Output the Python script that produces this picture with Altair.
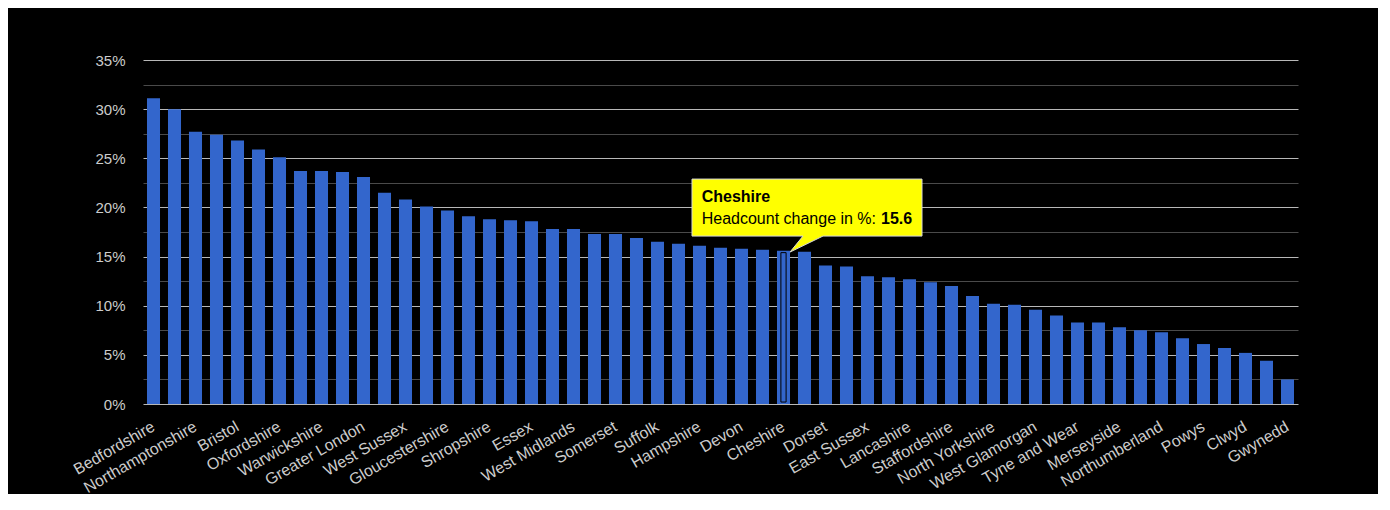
import altair as alt
import pandas as pd

# ---- data ----
names = [
    "Bedfordshire", "Buckinghamshire", "Northamptonshire", "Cambridgeshire",
    "Bristol", "Berkshire", "Oxfordshire", "Hertfordshire",
    "Warwickshire", "Leicestershire", "Greater London", "Wiltshire",
    "West Sussex", "Surrey", "Gloucestershire", "Kent",
    "Shropshire", "Nottinghamshire", "Essex", "Worcestershire",
    "West Midlands", "Herefordshire", "Somerset", "Norfolk",
    "Suffolk", "Derbyshire", "Hampshire", "Lincolnshire",
    "Devon", "Cornwall", "Cheshire", "Isle of Wight",
    "Dorset", "Cumbria", "East Sussex", "Durham",
    "Lancashire", "West Yorkshire", "Staffordshire", "South Yorkshire",
    "North Yorkshire", "Greater Manchester", "West Glamorgan", "East Riding of Yorkshire",
    "Tyne and Wear", "Gwent", "Merseyside", "Dyfed",
    "Northumberland", "Mid Glamorgan", "Powys", "South Glamorgan",
    "Clwyd", "Cleveland", "Gwynedd",
]
values = [
    31.1, 30.0, 27.7, 27.4,
    26.8, 25.9, 25.1, 23.7,
    23.7, 23.6, 23.1, 21.5,
    20.8, 20.1, 19.7, 19.1,
    18.8, 18.7, 18.6, 17.8,
    17.8, 17.3, 17.3, 16.9,
    16.5, 16.3, 16.1, 15.9,
    15.8, 15.7, 15.6, 15.5,
    14.1, 14.0, 13.0, 12.9,
    12.7, 12.4, 12.0, 11.0,
    10.2, 10.1, 9.6, 9.0,
    8.3, 8.3, 7.8, 7.5,
    7.3, 6.7, 6.1, 5.7,
    5.2, 4.4, 2.5,
]
shown_labels = [
    "Bedfordshire", "Northamptonshire", "Bristol", "Oxfordshire", "Warwickshire",
    "Greater London", "West Sussex", "Gloucestershire", "Shropshire", "Essex",
    "West Midlands", "Somerset", "Suffolk", "Hampshire", "Devon", "Cheshire",
    "Dorset", "East Sussex", "Lancashire", "Staffordshire", "North Yorkshire",
    "West Glamorgan", "Tyne and Wear", "Merseyside", "Northumberland", "Powys",
    "Clwyd", "Gwynedd",
]
y_ticks = [0, 2.5, 5, 7.5, 10, 12.5, 15, 17.5, 20, 22.5, 25, 27.5, 30, 32.5, 35]
highlight = "Cheshire"
tooltip_label = "Headcount change in %:"

df = pd.DataFrame({"area": names, "change": values})

FONT = "Arial, Liberation Sans, sans-serif"
TEXT = "#cccccc"

x_axis = alt.Axis(
    values=shown_labels,
    labelAngle=-30,
    labelAlign="right",
    labelBaseline="middle",
    labelFontSize=16,
    labelFont=FONT,
    labelColor=TEXT,
    labelPadding=21,
    labelOverlap=False,
    labelLimit=0,
    ticks=False,
    tickSize=0,
    domain=False,
    grid=False,
    title=None,
)
y_axis = alt.Axis(
    values=y_ticks,
    labelExpr="datum.value % 5 === 0 ? datum.value + '%' : ''",
    gridColor={"condition": {"test": "datum.value % 5 === 0", "value": "#b8b8b8"},
               "value": "#4a4a4a"},
    gridWidth=1,
    labelFontSize=15,
    labelFont=FONT,
    labelColor=TEXT,
    labelPadding=18,
    ticks=False,
    tickSize=0,
    domain=False,
    title=None,
)
x_scale = alt.Scale(paddingInner=0.38, paddingOuter=0.19)
y_scale = alt.Scale(domain=[0, 35], nice=False)


def X():
    return alt.X("area:N", sort=names, scale=x_scale, axis=x_axis)


def Y(field):
    return alt.Y(field, scale=y_scale, axis=y_axis)


base = alt.Chart(df)

bars = base.mark_bar(color="#3366cc").encode(x=X(), y=Y("change:Q"))

hl = base.transform_filter(alt.datum.area == highlight)

outline = hl.transform_calculate(
    top="datum.change - 0.2", bottom="0.2"
).mark_bar(
    fill="transparent", stroke="#000000", strokeWidth=1,
    width=alt.RelativeBandSize(0.4),
).encode(x=X(), y=Y("top:Q"), y2="bottom:Q")

tip_path = ("M -91.5 -71.6 L 138.5 -71.6 L 138.5 -14.6 L 39.5 -14.6 "
            "L 6.5 1.4 L 19.5 -14.6 L -91.5 -14.6 Z")
tip_box = hl.mark_point(
    shape=tip_path, size=4, filled=True, fill="#ffff00",
    stroke="#d8d8d8", strokeWidth=1, opacity=1, fillOpacity=1,
).encode(x=X(), y=Y("change:Q"))

tip_title = hl.mark_text(
    align="left", baseline="alphabetic", dx=-81.8, dy=-48.3,
    font=FONT, fontSize=16, fontWeight="bold", color="#000000",
).encode(x=X(), y=Y("change:Q"), text="area:N")

tip_label = hl.mark_text(
    align="left", baseline="alphabetic", dx=-81.8, dy=-26.3,
    font=FONT, fontSize=16, color="#000000",
).encode(x=X(), y=Y("change:Q"), text=alt.value(tooltip_label))

tip_value = hl.mark_text(
    align="left", baseline="alphabetic", dx=97.5, dy=-26.3,
    font=FONT, fontSize=16, fontWeight="bold", color="#000000",
).encode(x=X(), y=Y("change:Q"), text=alt.Text("change:Q", format=".1f"))

chart = alt.layer(bars, outline, tip_box, tip_title, tip_label, tip_value).properties(
    width=1155,
    height=344,
    autosize=alt.AutoSizeParams(type="none"),
    padding={"left": 135, "top": 52, "right": 80, "bottom": 90},
    background="#000000",
).configure_view(stroke=None)

chart.save("out.html", embed_options={"renderer": "svg", "actions": False})
